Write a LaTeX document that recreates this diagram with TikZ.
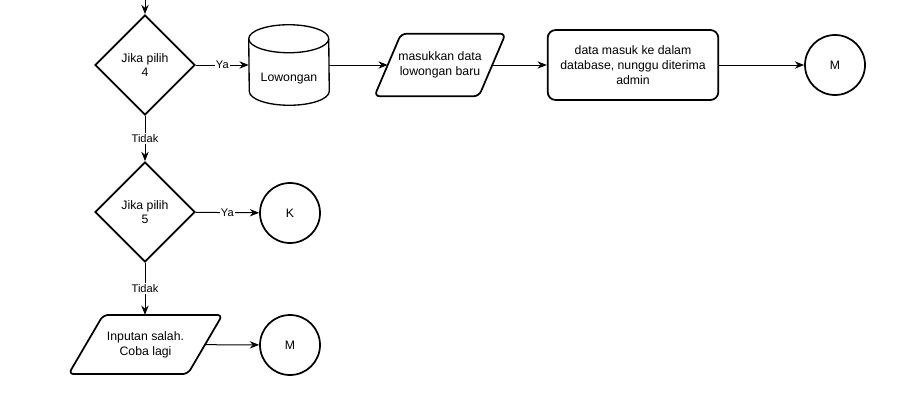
\documentclass[tikz,border=0pt]{standalone}
\usepackage{fontspec}
\setmainfont{Liberation Sans}
\usetikzlibrary{shapes.geometric,arrows.meta}

\begin{document}
\begin{tikzpicture}[x=0.75pt,y=-0.75pt,
    font=\fontsize{9.2}{11}\selectfont,
    decision/.style={shape=diamond,draw=black,line width=1.3pt,minimum width=75pt,minimum height=75pt,inner sep=0pt,align=center},
    store/.style={shape=rectangle,minimum width=60pt,minimum height=60pt,inner sep=0pt},
    io/.style={shape=rectangle,inner sep=0pt,align=center},
    outline/.style={draw=black,line width=1.3pt,rounded corners=4pt},
    process/.style={shape=rectangle,draw=black,line width=1.3pt,rounded corners=6pt,minimum width=128pt,minimum height=52.5pt,align=center},
    conn/.style={shape=circle,draw=black,line width=1.3pt,minimum size=45pt,inner sep=0pt},
    flow/.style={-{Stealth[length=7pt,width=5.5pt]},black,line width=0.75pt},
    lbl/.style={fill=white,inner sep=1pt,font=\fontsize{8.3}{9}\selectfont}
]
\useasboundingbox (0,0) rectangle (910,407);

    \coordinate (S) at (145,-2);

    \node[decision] (D1) at (145,65) {Jika pilih\\4};
    \node[store,label={[yshift=-10.5pt]center:Lowongan}] (L) at (289,65) {};
    \node[io,minimum width=78pt,minimum height=46.5pt] (I1) at (440,65) {masukkan data\\lowongan baru};
    \node[process] (P) at (633,65) {data masuk ke dalam\\database, nunggu diterima\\admin};
    \node[conn] (M1) at (835,65) {M};

    \node[decision] (D2) at (145,212) {Jika pilih\\5};
    \node[conn] (K) at (290,213) {K};

    \node[io,minimum width=89pt,minimum height=44pt] (I2) at (145.5,344.5) {Inputan salah.\\Coba lagi};
    \node[conn] (M2) at (290,345) {M};

    % cylinder outline round L
    \draw[line width=1pt] ([yshift=-10.5pt]L.north west) arc[start angle=180,end angle=0,x radius=30pt,y radius=10.5pt]
        -- ([yshift=10.5pt]L.south east) arc[start angle=0,end angle=-180,x radius=30pt,y radius=10.5pt] -- cycle;
    \draw[line width=1pt] ([yshift=-10.5pt]L.north west) arc[start angle=180,end angle=360,x radius=30pt,y radius=10.5pt];

    % parallelograms
    \draw[outline] ([xshift=-10pt]I1.south west) -- ([xshift=10pt]I1.north west)
        -- ([xshift=10pt]I1.north east) -- ([xshift=-10pt]I1.south east) -- cycle;
    \draw[outline] ([xshift=-13pt]I2.south west) -- ([xshift=13pt]I2.north west)
        -- ([xshift=13pt]I2.north east) -- ([xshift=-13pt]I2.south east) -- cycle;

   \draw[flow]   (S) -- (D1);
   \draw[flow]   (D1) -- node[lbl] {Ya} (L);
   \draw[flow]   (L) -- (I1);
   \draw[flow]   (I1) -- (P);
   \draw[flow]   (P) -- (M1);
   \draw[flow]   (D1) -- node[lbl] {Tidak} (D2);
   \draw[flow]   (D2) -- node[lbl] {Ya} (K);
   \draw[flow]   (D2) -- node[lbl] {Tidak} (D2 |- I2.north);
   \draw[flow]   (I2) -- (M2);
\end{tikzpicture}
\end{document}
